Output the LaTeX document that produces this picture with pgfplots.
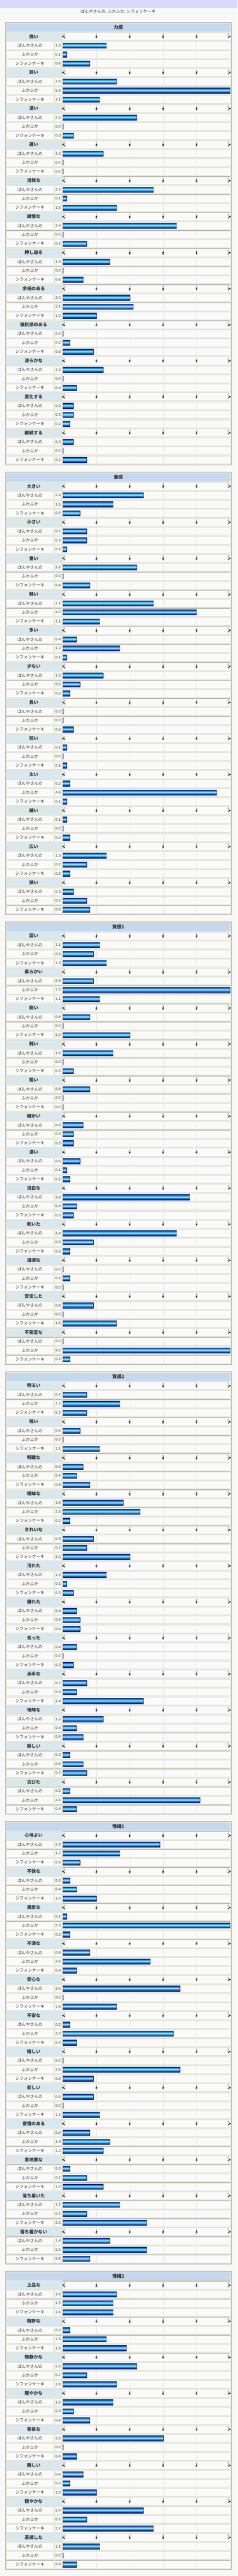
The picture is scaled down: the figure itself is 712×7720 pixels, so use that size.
\documentclass[border=0pt]{standalone}
\usepackage{fontspec}
\setmainfont{Noto Sans CJK JP}
\newfontfamily\numfont{Liberation Sans}
\usepackage{pgfplots}
\usepackage{pgfplotstable}
\pgfplotsset{compat=1.18}

\definecolor{pagebg}{HTML}{F8F8F8}
\definecolor{band}{HTML}{D8D8F8}
\definecolor{tablebg}{HTML}{ECECDE}
\definecolor{cellborder}{HTML}{E0E0D2}
\definecolor{celldark}{HTML}{A4A496}
\definecolor{cellfill}{HTML}{FAFAFA}
\definecolor{headfill}{HTML}{D8E8F0}
\definecolor{titlefill}{HTML}{C4D8F0}
\definecolor{gridc}{HTML}{E2E2E2}
\definecolor{tickc}{HTML}{606060}
\definecolor{txt}{HTML}{303030}
\definecolor{bar1}{HTML}{0D2A8A}
\definecolor{bar2}{HTML}{2C72C2}
\definecolor{bar3}{HTML}{4EC3E8}
\definecolor{bar4}{HTML}{A6ECF8}

% columns: attribute, ぱんやさんの (a), ふかふか (b), シフォンケーキ (c)
\pgfplotstableread[col sep=comma]{
name,a,b,c
強い,1.3,0.1,0.8
弱い,1.6,5.9,1.1
速い,2.2,0.0,0.3
遅い,1.2,0.0,0.0
活発な,2.7,0.1,1.6
緩慢な,3.4,0.0,0.7
押し迫る,1.4,0.0,0.6
余裕のある,2.0,2.1,1.0
抵抗感のある,0.0,0.2,0.9
滑らかな,1.2,0.0,0.4
変化する,0.3,0.3,0.2
継続する,0.3,0.0,0.7
}\tblA
\pgfplotstableread[col sep=comma]{
name,a,b,c
大きい,2.4,1.5,0.5
小さい,0.7,0.7,0.1
重い,2.2,0.0,0.8
軽い,2.7,4.0,1.1
多い,0.4,1.7,0.1
少ない,1.2,0.5,0.2
長い,0.0,0.0,0.3
短い,0.1,0.0,0.1
太い,0.2,4.6,0.1
細い,0.1,0.0,0.2
広い,1.3,0.7,0.2
狭い,0.3,0.7,0.8
}\tblB
\pgfplotstableread[col sep=comma]{
name,a,b,c
固い,1.1,0.9,1.3
柔らかい,0.9,7.7,1.1
鋭い,0.8,0.0,2.0
鈍い,1.5,0.0,0.3
粗い,0.8,0.0,0.0
細かい,0.6,0.3,0.3
濃い,0.5,0.1,0.2
淡白な,3.8,0.4,0.3
乾いた,3.4,0.9,0.2
湿潤な,0.0,0.2,0.0
安定した,0.9,0.0,1.6
不安定な,0.0,5.0,0.2
}\tblC
\pgfplotstableread[col sep=comma]{
name,a,b,c
明るい,0.7,1.7,0.7
暗い,0.5,0.0,1.1
明確な,0.6,0.4,0.8
曖昧な,1.8,2.3,0.2
きれいな,0.9,0.7,2.0
汚れた,1.3,0.1,0.3
優れた,0.4,0.5,0.5
劣った,0.4,0.0,0.3
派手な,0.7,0.4,2.4
地味な,1.2,0.4,0.6
新しい,0.2,0.6,0.7
古びた,0.2,4.1,0.4
}\tblD
\pgfplotstableread[col sep=comma]{
name,a,b,c
心地よい,2.9,1.7,0.5
不快な,0.2,0.4,1.0
満足な,0.1,5.3,0.2
不満な,0.8,2.6,0.4
安心な,3.5,0.0,1.6
不安な,0.2,3.3,0.4
嬉しい,0.0,3.5,0.9
悲しい,0.9,0.0,1.1
愛情のある,0.8,1.4,1.2
意地悪な,0.2,0.7,1.2
落ち着いた,1.7,0.7,2.5
落ち着かない,1.4,2.5,0.8
}\tblE
\pgfplotstableread[col sep=comma]{
name,a,b,c
上品な,1.6,1.5,1.5
粗野な,0.2,1.3,1.9
物静かな,2.2,0.7,1.6
賑やかな,1.5,0.3,0.8
容易な,3.0,0.0,0.4
難しい,0.6,0.2,1.0
穏やかな,2.4,0.7,2.7
高揚した,1.1,0.0,0.4
}\tblF

\pgfplotsset{
  labelplot/.style={only marks, mark=*, mark options={draw=none,fill=none}, nodes near coords},
}
\tikzset{
  darkedges/.style={\draw[celldark, line width=1.6pt]
    (path picture bounding box.south west) -- (path picture bounding box.north west)
    -- (path picture bounding box.north east);},
  cellbox/.style={draw=cellborder, fill=cellfill, line width=0.8pt, inner sep=0pt,
    minimum height=23.3pt, anchor=center, text=txt,
    path picture={\draw[celldark, line width=1.6pt]
      (path picture bounding box.south west) -- (path picture bounding box.north west)
      -- (path picture bounding box.north east);}},
  ticklbl/.style={inner sep=0pt, align=center, text=tickc,
    font=\numfont\fontsize{10.5}{10.5}\selectfont},
}
\newcommand\arrowmark{{\rmfamily\fontsize{7}{7}\selectfont ▼}}

% one item row of every group: table, column, row offset, item name
\newcommand\itemrows[4]{%
  \addplot[labelplot, nodes near coords={},
    every node near coord/.append style={cellbox, minimum width=503.2pt,
      path picture={\foreach \i in {1,...,4}{\draw[gridc, line width=0.8pt]
        ([xshift=\i*100pt+1.4pt]path picture bounding box.south west) --
        ([xshift=\i*100pt+1.4pt]path picture bounding box.north west);}
        \draw[celldark, line width=1.6pt]
        (path picture bounding box.south west) -- (path picture bounding box.north west)
        -- (path picture bounding box.north east);}}]
    table[x expr=2.503, y expr=4*\coordindex+#3] {#1};
  \addplot[labelplot, nodes near coords={#4},
    every node near coord/.append style={cellbox, minimum width=143.2pt,
      font=\fontsize{12.5}{12.5}\selectfont}]
    table[x expr=-0.992, y expr=4*\coordindex+#3] {#1};
  \addplot[labelplot, point meta=explicit,
    nodes near coords={\pgfmathprintnumber[fixed,zerofill,precision=1,assume math mode=true]{\pgfplotspointmeta}},
    every node near coord/.append style={cellbox, minimum width=19.5pt,
      font=\numfont\fontsize{11}{11}\selectfont}]
    table[x expr=-0.147, y expr=4*\coordindex+#3, meta=#2] {#1};
  \addplot[xbar, bar shift=0pt, bar width=0.593, fill=bar1, draw=bar1, line width=0.6pt,
    x filter/.expression={min(x,5)}] table[x=#2, y expr=4*\coordindex+#3] {#1};
  \addplot[xbar, bar shift=0pt, bar width=0.41, fill=bar2, draw=none,
    x filter/.expression={min(x,5)}] table[x=#2, y expr=4*\coordindex+#3] {#1};
  \addplot[xbar, bar shift=0pt, bar width=0.22, fill=bar3, draw=none,
    x filter/.expression={min(x,5)}] table[x=#2, y expr=4*\coordindex+#3] {#1};
  \addplot[xbar, bar shift=0pt, bar width=0.07, fill=bar4, draw=none,
    x filter/.expression={min(x,5)}] table[x=#2, y expr=4*\coordindex+#3] {#1};
}

% one boxed section: index, title, table, number of groups
\newcommand\drawsection[4]{%
  \pgfmathsetmacro\secTop{-(82.2+1347.8*#1-13.5)}
  \pgfmathsetmacro\secR{4*#4}
  \pgfmathsetmacro\secH{27*(4*#4+1)}
  \begin{axis}[at={(189pt,\secTop pt)}, anchor=north west, scale only axis,
    width=500pt, height=\secH pt, xmin=0, xmax=5, ymin=-0.5, ymax=\secR+0.5,
    y dir=reverse, hide axis, clip=false, clip marker paths=true]
    \fill[tablebg, draw=celldark, line width=0.8pt]
      (axis cs:-1.736,-0.556) rectangle (axis cs:5.05,\secR+0.548);
    \node[fill=titlefill, draw=cellborder, line width=0.8pt, inner sep=0pt,
      minimum width=672.7pt, minimum height=24.3pt, text=txt,
      font=\bfseries\fontsize{14}{14}\selectfont] at (axis cs:1.6555,0) {#2};
    \addplot[labelplot, nodes near coords={},
      every node near coord/.append style={cellbox, minimum width=503.2pt}]
      table[x expr=2.503, y expr=4*\coordindex+1] {#3};
    \addplot[labelplot, point meta=explicit symbolic,
      every node near coord/.append style={cellbox, fill=headfill, path picture={},
        minimum width=165.8pt, font=\bfseries\fontsize{13.5}{13.5}\selectfont}]
      table[x expr=-0.879, y expr=4*\coordindex+1, meta=name] {#3};
    \addplot[labelplot, nodes near coords={0\\[-3pt]\arrowmark},
      every node near coord/.append style={ticklbl, anchor=west}]
      table[x expr=0, y expr=4*\coordindex+1] {#3};
    \pgfplotsinvokeforeach{1,...,4}{
      \addplot[labelplot, nodes near coords={##1\\[-3pt]\arrowmark},
        every node near coord/.append style={ticklbl, anchor=center}]
        table[x expr=##1, y expr=4*\coordindex+1] {#3};
    }
    \addplot[labelplot, nodes near coords={5\\[-3pt]\arrowmark},
      every node near coord/.append style={ticklbl, anchor=east}]
      table[x expr=5, y expr=4*\coordindex+1] {#3};
    \itemrows{#3}{a}{2}{ぱんやさんの}
    \itemrows{#3}{b}{3}{ふかふか}
    \itemrows{#3}{c}{4}{シフォンケーキ}
  \end{axis}}

\begin{document}
\begin{tikzpicture}[x=1pt, y=1pt]
  \fill[pagebg] (0,0) rectangle (712,-7720);
  \fill[band] (0,0) rectangle (712,-25);
  \node[text=txt, font=\fontsize{12.5}{12.5}\selectfont] at (354,-35)
    {ぱんやさんの, ふかふか, シフォンケーキ};
  \drawsection{0}{力感}{\tblA}{12}
  \drawsection{1}{量感}{\tblB}{12}
  \drawsection{2}{質感1}{\tblC}{12}
  \drawsection{3}{質感2}{\tblD}{12}
  \drawsection{4}{情緒1}{\tblE}{12}
  \drawsection{5}{情緒2}{\tblF}{8}
\end{tikzpicture}
\end{document}
